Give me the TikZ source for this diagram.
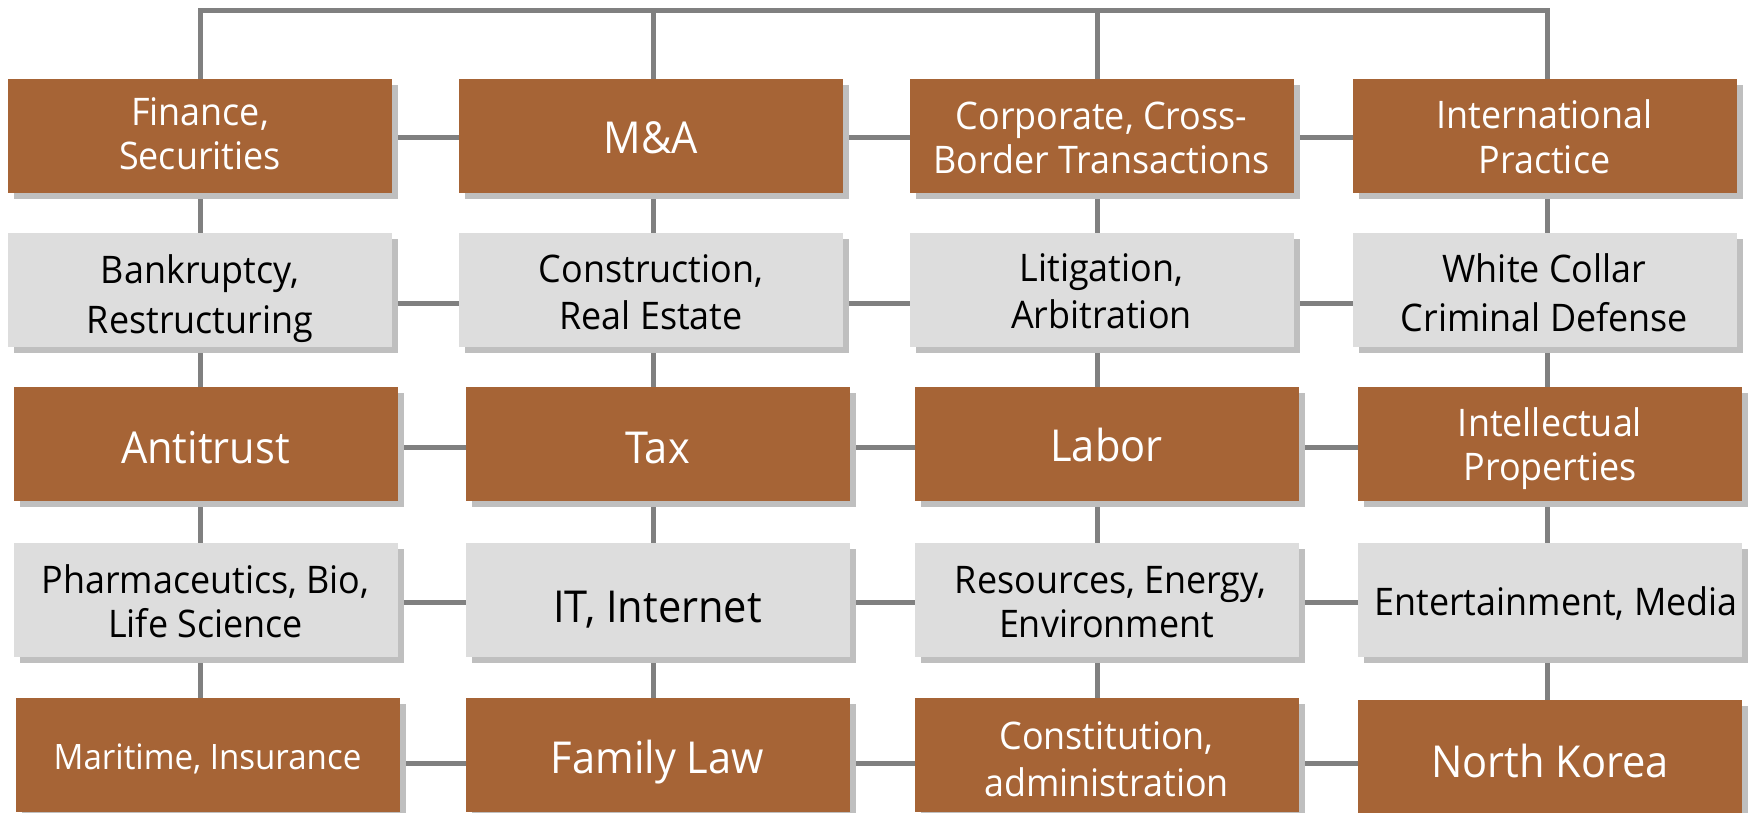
\documentclass[tikz,border=0pt]{standalone}
\usepackage{fontspec}
\setmainfont[FakeStretch=0.945]{Open Sans}
\usetikzlibrary{shadows}
\definecolor{brownbg}{HTML}{A66436}
\definecolor{greybg}{HTML}{DDDDDD}
\definecolor{shadowgrey}{HTML}{BFBFBF}
\definecolor{linegrey}{HTML}{808080}
\tikzset{
  box/.style={rectangle, inner sep=0pt, minimum width=384pt, minimum height=114pt, align=center,
    text depth=0pt,
    drop shadow={shadow xshift=6pt, shadow yshift=-6pt, fill=shadowgrey, opacity=1}},
  brownbox/.style={box, fill=brownbg, text=white},
  greybox/.style={box, fill=greybg, text=black},
  sm/.style={font=\fontsize{38}{#1}\selectfont},
  big/.style={font=\fontsize{44}{50}\selectfont},
  th/.style={text height=#1pt},
  conn/.style={draw=linegrey, line width=5pt}
}
\begin{document}
\begin{tikzpicture}[x=1pt,y=-1pt]
\useasboundingbox (0,0) rectangle (1750,812);
\coordinate (t1) at (200,10.5);
\coordinate (t2) at (653,10.5);
\coordinate (t3) at (1097,10.5);
\coordinate (t4) at (1547,10.5);
\coordinate (b1) at (200,812);
\coordinate (b2) at (653,812);
\coordinate (b3) at (1097,812);
\coordinate (b4) at (1547,812);

% connectors (behind boxes)
\draw[conn] (b1) -- (t1) -- (t4) -- (b4);
\draw[conn] (t2) -- (b2);
\draw[conn] (t3) -- (b3);
\coordinate (r1l) at (200,137);  \coordinate (r1r) at (1547,137);
\coordinate (r2l) at (200,303);  \coordinate (r2r) at (1547,303);
\coordinate (r3l) at (200,447);  \coordinate (r3r) at (1547,447);
\coordinate (r4l) at (200,602);  \coordinate (r4r) at (1547,602);
\coordinate (r5l) at (200,763);  \coordinate (r5r) at (1547,763);
\draw[conn] (r1l) -- (r1r);
\draw[conn] (r2l) -- (r2r);
\draw[conn] (r3l) -- (r3r);
\draw[conn] (r4l) -- (r4r);
\draw[conn] (r5l) -- (r5r);

% row 1
\node[brownbox, sm=44, th=67.1] (fin) at (200,136) {Finance,\\Securities};
\node[brownbox, big, th=34.4] (ma) at (651,136) {M\&A};
\node[brownbox, sm=44, th=74.1] (corp) at (1101.5,136) {Corporate, Cross-\\Border Transactions};
\node[brownbox, sm=45, th=75.1] (intl) at (1544.5,136) {International\\Practice};
% row 2
\node[greybox, sm=50, th=86.1] (bank) at (200,290) {Bankruptcy,\\Restructuring};
\node[greybox, sm=47, th=79.1] (cons) at (651,290) {Construction,\\Real Estate};
\node[greybox, sm=47, th=77.1] (lit) at (1101.5,290) {Litigation,\\Arbitration};
\node[greybox, sm=49, th=83.1] (white) at (1544.5,290) {White Collar\\Criminal Defense};
% row 3
\node[brownbox, big, th=38.4] (anti) at (205.5,444) {Antitrust};
\node[brownbox, big, th=39.4] (tax) at (657.5,444) {Tax};
\node[brownbox, big, th=34.4] (labor) at (1106.5,444) {Labor};
\node[brownbox, sm=44, th=73.1] (ip) at (1550,444) {Intellectual\\Properties};
% row 4
\node[greybox, sm=44, th=75.1] (pharma) at (205.5,600) {Pharmaceutics, Bio,\\Life Science};
\node[greybox, big, th=45.4] (it) at (657.5,600) {IT, Internet};
\node[greybox, sm=44, th=75.1] (res) at (1106.5,600) {\hspace*{8pt}Resources, Energy,\\Environment};
\node[greybox, sm=44, th=30.1] (ent) at (1550,600) {\hspace*{12pt}Entertainment, Media};
% row 5
\node[brownbox, font=\fontsize{35}{42}\selectfont, th=29] (mar) at (207.5,755) {Maritime, Insurance};
\node[brownbox, big, th=36.4] (fam) at (657.5,755) {Family Law};
\node[brownbox, sm=47, th=83.1] (const) at (1106.5,755) {Constitution,\\administration};
\node[brownbox, big, th=40.4] (nk) at (1550,757) {North Korea};
\end{tikzpicture}
\end{document}
